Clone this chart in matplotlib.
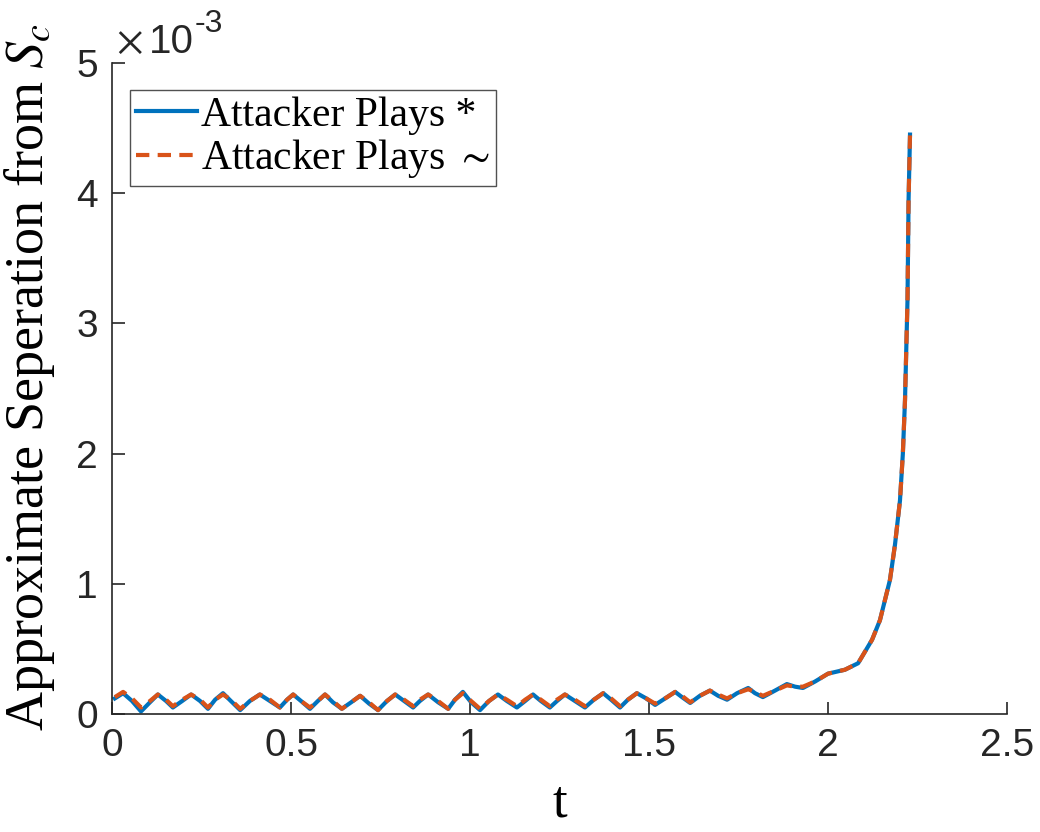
import numpy as np
import matplotlib
matplotlib.use("Agg")
import matplotlib.pyplot as plt
from matplotlib.ticker import FuncFormatter

# time samples and separation (in units of 1e-3)
t = [0.008, 0.031, 0.056, 0.081, 0.106, 0.128, 0.151, 0.170, 0.196, 0.221,
     0.246, 0.268, 0.288, 0.310, 0.332, 0.358, 0.385, 0.413, 0.441, 0.469,
     0.489, 0.506, 0.528, 0.553, 0.575, 0.595, 0.617, 0.642, 0.668, 0.693,
     0.718, 0.743, 0.768, 0.791, 0.816, 0.841, 0.860, 0.883, 0.911, 0.939,
     0.958, 0.980, 1.003, 1.028, 1.053, 1.078, 1.103, 1.131, 1.154, 1.176,
     1.198, 1.223, 1.243, 1.265, 1.293, 1.321, 1.346, 1.372, 1.394, 1.419,
     1.441, 1.466, 1.492, 1.517, 1.545, 1.573, 1.592, 1.615, 1.642, 1.670,
     1.693, 1.718, 1.746, 1.777, 1.796, 1.818, 1.852, 1.885, 1.908, 1.930,
     1.964, 2.000, 2.047, 2.084, 2.123, 2.145, 2.173, 2.187, 2.201, 2.209,
     2.215, 2.222, 2.225, 2.229]

sep_star = [0.12, 0.16, 0.10, 0.02, 0.09, 0.15, 0.10, 0.05, 0.10, 0.15,
            0.10, 0.04, 0.11, 0.16, 0.10, 0.03, 0.10, 0.15, 0.10, 0.05,
            0.11, 0.15, 0.10, 0.04, 0.10, 0.15, 0.09, 0.04, 0.09, 0.14,
            0.08, 0.03, 0.10, 0.15, 0.10, 0.05, 0.10, 0.15, 0.09, 0.04,
            0.11, 0.17, 0.09, 0.03, 0.10, 0.15, 0.10, 0.05, 0.10, 0.15,
            0.10, 0.05, 0.10, 0.15, 0.10, 0.05, 0.11, 0.16, 0.11, 0.05,
            0.11, 0.16, 0.12, 0.07, 0.12, 0.17, 0.13, 0.085, 0.14, 0.18,
            0.14, 0.11, 0.16, 0.20, 0.16, 0.13, 0.18, 0.23, 0.21, 0.20,
            0.25, 0.31, 0.34, 0.39, 0.57, 0.72, 1.03, 1.30, 1.64, 2.00,
            2.41, 3.18, 3.95, 4.45]

sep_tilde = [0.13, 0.17, 0.12, 0.05, 0.10, 0.15, 0.11, 0.06, 0.11, 0.15,
             0.11, 0.05, 0.11, 0.15, 0.11, 0.04, 0.10, 0.15, 0.11, 0.05,
             0.11, 0.15, 0.10, 0.05, 0.10, 0.15, 0.10, 0.04, 0.09, 0.14,
             0.09, 0.03, 0.10, 0.15, 0.11, 0.06, 0.11, 0.15, 0.10, 0.04,
             0.11, 0.16, 0.10, 0.04, 0.10, 0.15, 0.11, 0.06, 0.11, 0.15,
             0.11, 0.06, 0.11, 0.15, 0.11, 0.06, 0.11, 0.16, 0.12, 0.06,
             0.11, 0.16, 0.12, 0.08, 0.12, 0.17, 0.14, 0.09, 0.14, 0.18,
             0.15, 0.12, 0.16, 0.19, 0.17, 0.14, 0.18, 0.22, 0.21, 0.21,
             0.25, 0.31, 0.34, 0.39, 0.57, 0.72, 1.03, 1.30, 1.64, 2.00,
             2.41, 3.18, 3.95, 4.45]

labels = ["Attacker Plays *", r"Attacker Plays $\sim$"]
xticks = [0, 0.5, 1, 1.5, 2, 2.5]
yticks = [0, 1, 2, 3, 4, 5]

plt.rcParams["mathtext.fontset"] = "stix"

fig = plt.figure(figsize=(10.4, 8.32), dpi=100)
ax = fig.add_axes([0.1077, 0.1418, 0.8606, 0.7825])

ax.plot(t, sep_star, color="#0072BD", lw=3.0, solid_joinstyle="round",
        label=labels[0])
ax.plot(t, sep_tilde, color="#D95319", lw=3.0, ls=(0, (3.2, 2.0)),
        dash_joinstyle="round", label=labels[1])

ax.set_xlim(0, 2.5)
ax.set_ylim(0, 5)
ax.set_xticks(xticks)
ax.set_yticks(yticks)
ax.xaxis.set_major_formatter(FuncFormatter(lambda v, p: f"{v:g}"))
ax.tick_params(direction="in", length=9, width=1.2, colors="#262626",
               labelsize=28, pad=10)
for lab in ax.get_xticklabels() + ax.get_yticklabels():
    lab.set_fontfamily("Liberation Sans")
ax.spines["top"].set_visible(False)
ax.spines["right"].set_visible(False)
for s in ["left", "bottom"]:
    ax.spines[s].set_color("#262626")
    ax.spines[s].set_linewidth(1.2)

# exponent marker, MATLAB style
ax.text(0.005, 1.0154, r"$\times$", transform=ax.transAxes,
        fontsize=30, color="#262626", va="baseline", ha="left")
ax.text(0.041, 1.0154, "10", transform=ax.transAxes,
        fontsize=29, family="Liberation Sans", color="#262626",
        va="baseline", ha="left")
ax.text(0.0925, 1.0476, "-3", transform=ax.transAxes,
        fontsize=23, family="Liberation Sans", color="#262626",
        va="baseline", ha="left")

ax.set_xlabel("t", family="Liberation Serif", fontsize=38, labelpad=11)
ax.set_ylabel(r"Approximate Seperation from $S_c$", family="Liberation Serif",
              fontsize=39)
ax.yaxis.set_label_coords(-0.062, 0.518)

leg = ax.legend(loc="upper left", bbox_to_anchor=(0.02, 0.958),
                prop={"family": "Liberation Serif", "size": 30},
                frameon=True, fancybox=False, edgecolor="#262626",
                handlelength=1.45, handletextpad=0.1, borderpad=0.15,
                labelspacing=0.05, borderaxespad=0)
leg.get_frame().set_linewidth(1.0)

fig.savefig("out.png", dpi=100)
